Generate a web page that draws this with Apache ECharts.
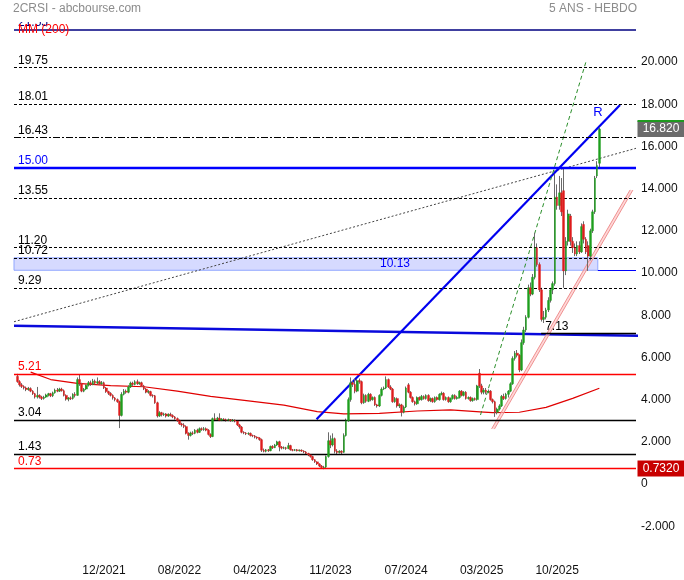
<!DOCTYPE html>
<html><head><meta charset="utf-8">
<script src="https://cdn.jsdelivr.net/npm/echarts@6/dist/echarts.min.js"></script>
<style>html,body{margin:0;padding:0;background:#fff}#c{width:684px;height:580px}</style>
</head><body><div id="c"></div>
<script>
// ---------- DATA ----------
const FIRST_WEEK = 1;            // index of the first weekly candle
const candles = [                // [open, close, low, high]
[5.10,4.85,4.80,5.22],[4.85,4.70,4.62,4.92],[4.70,4.62,4.55,4.78],[4.62,4.55,4.48,4.68],[4.55,4.48,4.40,4.62],
[4.48,4.52,4.42,4.60],[4.52,4.40,4.35,4.58],[4.40,4.28,4.22,4.45],[4.28,4.12,4.05,4.32],[4.12,4.20,4.05,4.60],
[4.20,4.12,4.05,4.25],[4.12,4.05,3.98,4.18],[4.05,4.12,4.00,4.18],[4.12,4.22,4.08,4.28],[4.22,4.28,4.15,4.32],
[4.28,4.18,4.12,4.32],[4.18,4.32,4.12,4.38],[4.32,4.45,4.28,4.52],[4.45,4.40,4.35,4.55],[4.40,4.50,4.36,4.56],
[4.50,4.42,4.38,4.56],[4.42,4.20,4.15,4.48],[4.20,4.02,3.95,4.25],[4.02,4.08,3.92,4.12],[4.08,4.05,3.98,4.15],
[4.05,4.25,4.00,4.30],[4.25,4.20,4.10,4.35],[4.20,4.95,4.18,5.05],[4.95,4.75,4.65,5.20],[4.75,4.40,4.35,4.80],
[4.40,4.50,4.35,4.55],[4.50,4.68,4.45,4.72],[4.68,4.80,4.62,4.88],[4.80,4.72,4.65,4.90],[4.72,4.88,4.68,4.98],
[4.88,4.78,4.72,4.95],[4.78,4.85,4.72,5.05],[4.85,4.75,4.70,4.92],[4.75,4.80,4.70,4.88],[4.80,4.55,4.50,4.85],
[4.55,4.38,4.32,4.60],[4.38,4.30,4.22,4.42],[4.30,4.20,4.15,4.35],[4.20,4.08,4.00,4.25],[4.08,4.00,3.92,4.12],
[4.00,3.90,3.85,4.05],[3.90,3.25,2.65,3.95],[3.25,4.25,3.20,4.35],[4.25,4.40,4.20,4.50],[4.40,4.35,4.28,4.48],
[4.35,4.60,4.30,4.68],[4.60,4.78,4.55,4.85],[4.78,4.72,4.65,4.85],[4.72,4.85,4.68,4.92],[4.85,4.75,4.70,4.95],
[4.75,4.80,4.70,4.85],[4.80,4.65,4.60,4.85],[4.65,4.50,4.45,4.70],[4.50,4.35,4.30,4.55],[4.35,4.38,4.28,4.45],
[4.38,4.20,4.15,4.42],[4.20,4.18,4.10,4.25],[4.18,3.85,3.80,4.22],[3.85,3.22,3.15,3.90],[3.22,3.38,3.18,3.45],
[3.38,3.28,3.20,3.42],[3.28,3.32,3.22,3.38],[3.32,3.22,3.15,3.36],[3.22,3.30,3.18,3.35],[3.30,3.25,3.20,3.38],
[3.25,3.18,3.12,3.30],[3.18,3.10,3.05,3.22],[3.10,3.00,2.95,3.15],[3.00,2.85,2.80,3.05],[2.85,2.80,2.72,2.90],
[2.80,2.72,2.65,2.88],[2.72,2.40,2.35,2.78],[2.40,2.30,2.10,2.45],[2.30,2.42,2.25,2.48],[2.42,2.40,2.32,2.50],
[2.40,2.55,2.36,2.60],[2.55,2.45,2.40,2.62],[2.45,2.62,2.42,2.68],[2.62,2.58,2.52,2.68],[2.58,2.62,2.52,2.70],
[2.62,2.55,2.50,2.68],[2.55,2.35,2.30,2.60],[2.35,2.25,2.18,2.40],[2.25,3.10,2.22,3.15],[3.10,3.05,2.98,3.35],
[3.05,3.12,3.00,3.18],[3.12,3.02,2.98,3.35],[3.02,3.08,2.98,3.12],[3.08,3.05,3.00,3.12],[3.05,3.02,2.96,3.10],
[3.02,3.05,2.98,3.10],[3.05,3.00,2.95,3.08],[3.00,3.03,2.96,3.08],[3.03,2.98,2.92,3.06],[2.98,2.80,2.75,3.02],
[2.80,2.70,2.62,2.85],[2.70,2.45,2.40,2.75],[2.45,2.42,2.36,2.50],[2.42,2.38,2.32,2.46],[2.38,2.40,2.32,2.45],
[2.40,2.30,2.25,2.44],[2.30,2.28,2.22,2.34],[2.28,2.22,2.16,2.32],[2.22,2.18,2.12,2.26],[2.18,2.10,2.05,2.22],
[2.10,1.60,1.52,2.15],[1.60,1.55,1.50,1.68],[1.55,1.62,1.50,1.66],[1.62,1.58,1.52,1.66],[1.58,1.78,1.55,1.82],
[1.78,1.72,1.66,1.84],[1.72,1.85,1.70,1.90],[1.85,2.00,1.80,2.05],[2.00,1.75,1.55,2.05],[1.75,1.70,1.64,1.80],
[1.70,1.72,1.65,1.78],[1.72,1.68,1.62,1.76],[1.68,1.82,1.65,1.95],[1.82,1.62,1.58,1.86],[1.62,1.60,1.55,1.66],
[1.60,1.62,1.56,1.66],[1.62,1.58,1.54,1.66],[1.58,1.60,1.54,1.64],[1.60,1.56,1.52,1.64],[1.56,1.52,1.46,1.60],
[1.52,1.45,1.40,1.56],[1.45,1.38,1.32,1.48],[1.38,1.30,1.25,1.42],[1.30,1.15,1.10,1.34],[1.15,1.05,1.00,1.18],
[1.05,0.95,0.90,1.08],[0.95,0.85,0.80,0.98],[0.85,0.78,0.72,0.90],[0.78,0.80,0.70,0.86],[0.80,1.30,0.76,1.35],
[1.30,2.05,1.25,2.45],[2.05,1.85,1.70,2.30],[1.85,2.15,1.78,2.40],[2.15,1.55,1.45,2.20],[1.55,1.50,1.40,1.65],
[1.50,1.55,1.45,1.60],[1.55,1.50,1.42,1.60],[1.50,2.30,1.48,2.40],[2.30,3.00,2.25,3.10],[3.00,4.00,2.95,4.10],
[4.00,4.80,3.90,5.05],[4.80,4.72,4.60,4.88],[4.72,4.40,4.30,5.00],[4.40,4.90,4.35,4.98],[4.90,4.85,4.75,5.00],
[4.85,3.85,3.78,4.90],[3.85,4.20,3.80,4.28],[4.20,3.92,3.85,4.25],[3.92,4.25,3.88,4.32],[4.25,4.00,3.92,4.30],
[4.00,4.10,3.95,4.15],[4.10,3.75,3.70,4.15],[3.75,3.70,3.62,3.80],[3.70,4.20,3.65,4.25],[4.20,4.50,4.15,4.58],
[4.50,4.55,4.45,4.62],[4.55,4.95,4.50,5.10],[4.95,4.60,4.55,5.00],[4.60,4.50,4.45,4.68],[4.50,3.90,3.85,4.55],
[3.90,4.05,3.85,4.12],[4.05,3.70,3.62,4.10],[3.70,3.75,3.60,3.82],[3.75,3.40,3.20,3.80],[3.40,3.65,3.35,3.72],
[3.65,4.55,3.60,4.62],[4.70,4.35,4.30,4.78],[4.35,4.10,4.05,4.40],[4.10,3.90,3.85,4.15],[3.90,3.80,3.72,3.95],
[3.80,4.10,3.75,4.15],[4.10,4.00,3.95,4.15],[4.00,4.15,3.95,4.22],[4.15,4.05,4.00,4.20],[4.05,4.20,4.00,4.25],
[4.20,3.95,3.90,4.25],[3.95,4.05,3.88,4.10],[4.05,3.90,3.85,4.10],[3.90,4.10,3.85,4.15],[4.10,4.00,3.95,4.15],
[4.00,4.25,3.95,4.30],[4.25,4.30,4.20,4.38],[4.30,4.00,3.95,4.35],[4.00,4.10,3.95,4.15],[4.10,3.90,3.85,4.15],
[3.90,4.05,3.85,4.10],[4.05,4.20,4.00,4.25],[4.20,4.05,4.00,4.25],[4.05,4.10,4.00,4.18],[4.10,4.40,4.05,4.45],
[4.40,4.20,4.15,4.45],[4.20,4.35,4.15,4.40],[4.35,4.05,4.00,4.40],[4.05,4.10,4.00,4.15],[4.10,3.95,3.90,4.15],
[3.95,4.05,3.90,4.10],[4.05,4.00,3.95,4.10],[4.00,4.65,3.95,4.70],[5.25,4.65,4.55,5.45],[4.65,4.35,4.25,4.75],
[4.35,4.45,4.25,4.55],[4.45,4.35,4.25,4.55],[4.35,4.40,4.30,4.48],[4.40,4.00,3.95,4.45],[4.00,3.90,3.82,4.05],
[3.90,3.40,3.18,3.95],[3.40,3.55,3.30,3.62],[3.55,3.70,3.48,3.78],[3.70,4.15,3.65,4.22],[4.15,4.05,3.98,4.28],
[4.05,4.25,4.00,4.32],[4.25,4.40,4.10,4.45],[4.40,4.75,4.35,4.82],[4.75,5.95,4.70,6.05],[5.95,6.20,5.85,6.30],
[6.20,6.10,6.00,6.35],[6.10,5.40,5.30,6.15],[5.40,6.70,5.35,6.85],[6.70,7.30,6.60,7.45],[7.30,7.90,7.20,8.00],
[7.90,9.30,7.85,9.45],[9.30,9.00,8.90,9.55],[9.00,9.80,8.95,9.95],[9.80,11.20,9.70,11.90],[11.20,10.40,10.30,11.40],
[10.40,9.20,9.10,10.50],[9.20,7.80,7.70,9.30],[7.80,7.90,7.63,8.20],[7.90,8.25,7.80,8.35],[8.25,8.70,8.15,8.85],
[8.70,9.20,8.60,9.30],[9.20,9.50,9.00,9.60],[9.50,13.60,9.40,14.70],[13.60,13.20,13.00,14.20],[13.20,13.80,13.00,14.60],
[13.80,12.90,12.70,14.50],[13.90,10.10,9.30,15.00],[10.10,11.50,9.90,11.70],[11.50,12.80,11.30,13.00],[12.70,11.50,11.30,12.80],
[11.50,11.20,10.95,11.70],[11.20,10.90,10.80,11.40],[10.90,11.30,10.80,11.50],[11.30,11.00,10.90,11.50],[11.00,12.20,10.95,12.35],
[12.30,11.60,11.40,12.45],[11.60,11.00,10.90,11.70],[11.30,10.80,10.10,11.50],[10.80,12.00,10.60,12.10],[12.00,12.90,11.90,13.00],
[12.90,14.50,12.80,14.60],[14.60,15.10,14.50,15.30],[15.20,16.82,15.00,16.90]
];
const SLOTS = 280;                               // weekly slots on the time axis
const tickIdx = [40, 74, 108, 142, 176, 210, 244];
const tickLabels = ['12/2021', '08/2022', '04/2023', '11/2023', '07/2024', '03/2025', '10/2025'];
const ma200 = [[7,5.30],[16,4.95],[28,4.77],[43,4.66],[58,4.61],[73,4.40],[88,4.15],[106,3.93],[121,3.74],
  [136,3.43],[148,3.32],[164,3.35],[181,3.46],[196,3.51],[211,3.41],[215,3.38],[227,3.40],[239,3.63],[251,4.06],[263,4.54]];
const levelValues = [21.55, 19.75, 18.01, 16.43, 15.00, 13.55, 11.20, 10.72, 9.29, 5.21, 3.04, 1.43, 0.73];
const levelLabels = ['21.55', '19.75', '18.01', '16.43', '15.00', '13.55', '11.20', '10.72', '9.29', '5.21', '3.04', '1.43', '0.73'];
const levelKinds = ['navy', 'dot', 'dot', 'dashdot', 'blue', 'dot', 'dot', 'dot', 'dot', 'red', 'black', 'black', 'red'];
const zoneRange = [10.13, 10.72];
const zoneEndWeek = 262.3;
const zoneLabel = '10.13';
const supportValue = 7.13, supportStartWeek = 236.8, supportLabel = '7.13';
const dottedTrend = [[-0.5, 7.69], [279.5, 15.91]];
const resistanceR = [[135.7, 3.07], [272.3, 17.96]];
const flatTrend = [[-0.5, 7.50], [301.1, 6.99]];
const greenTrend = [[209.5, 3.27], [257.2, 20.09]];
const pinkTrendA = [[214.5, 2.61], [276.8, 13.93]];
const pinkTrendB = [[215.8, 2.61], [278.1, 13.93]];
const pinkTrendMid = [[215.15, 2.61], [277.45, 13.93]];
const lastPrice = 16.82, lastPriceText = '16.820';
const lowPrice = 0.732, lowPriceText = '0.7320';
const fiboNote = '38,2% 21,0063 100% 18';
const fiboNoteAt = [-1.9, 12.9];
const rLabelAt = [262.4, 17.63];
const zoneLabelAt = [171, 10.43];

// ---------- CHART ----------
const FONT = '"Liberation Sans", Arial, Helvetica, sans-serif';
const chart = echarts.init(document.getElementById('c'));
const wickData = candles.map((c, k) => [FIRST_WEEK + k, c[0], c[1], c[2], c[3]]);
const bodyData = candles.map((c, k) => [FIRST_WEEK + k, c[0], c[1], Math.min(c[0], c[1]), Math.max(c[0], c[1])]);

const kindStyle = {
  navy: {color: '#000080', width: 1.5, type: 'solid', text: '#000080'},
  dot: {color: '#000', width: 1, type: [3, 2], text: '#000'},
  dashdot: {color: '#000', width: 1, type: [7, 2, 2, 2], text: '#000'},
  blue: {color: '#0000ff', width: 2.4, type: 'solid', text: '#0000ff'},
  red: {color: '#ff0000', width: 1.3, type: 'solid', text: '#ff0000'},
  black: {color: '#000', width: 1.3, type: 'solid', text: '#000'}
};
const lbl = (text, color) => ({show: true, formatter: text, position: 'insideStartTop', distance: [4, 1],
  color: color, fontSize: 12, fontFamily: FONT});

const levelLines = levelValues.map((v, k) => {
  const s = kindStyle[levelKinds[k]];
  return {yAxis: v, lineStyle: {color: s.color, width: s.width, type: s.type}, label: lbl(levelLabels[k], s.text)};
});
levelLines.push([{coord: [supportStartWeek, supportValue], lineStyle: {color: '#000', width: 1.3, type: 'solid'},
  label: lbl(supportLabel, '#000')}, {coord: [SLOTS - 0.5, supportValue]}]);
levelLines.push([{coord: [zoneEndWeek, zoneRange[0]], lineStyle: {color: '#0000ff', width: 1.2, type: 'solid'},
  label: {show: false}}, {coord: [SLOTS - 0.5, zoneRange[0]]}]);

const trend = (data, color, width, type, extra) => Object.assign({
  type: 'line', data: data, symbol: 'none', silent: true, animation: false,
  lineStyle: {color: color, width: width, type: type}, z: 3
}, extra || {});

const notePoint = (at, text, color, pos, size) => ({coord: at, symbol: 'circle', symbolSize: 0,
  label: {show: true, formatter: text, position: pos, distance: 0, color: color, fontSize: size || 12, fontFamily: FONT}});
const tagPoint = (v, text, bg) => ({coord: [SLOTS - 0.5, v], symbol: 'rect', symbolSize: [47, 16], symbolOffset: [25, 0],
  itemStyle: {color: bg}, label: {show: true, formatter: text, position: 'inside', color: '#fff', fontSize: 12, fontFamily: FONT}});

chart.setOption({
  animation: false,
  backgroundColor: '#fff',
  grid: {left: 14, right: 48, top: 19.8, bottom: 11.6, containLabel: false},
  xAxis: {
    type: 'value', min: -0.5, max: SLOTS - 0.5,
    axisLine: {show: false}, axisTick: {show: false}, splitLine: {show: false},
    axisLabel: {customValues: tickIdx, margin: -4, color: '#111', fontSize: 12, fontFamily: FONT,
      formatter: v => { const k = tickIdx.indexOf(Math.round(v)); return k >= 0 ? tickLabels[k] : ''; }}
  },
  yAxis: {
    type: 'value', position: 'right', min: -4, max: 22, interval: 2,
    axisLine: {show: false}, axisTick: {show: false}, splitLine: {show: false},
    axisLabel: {showMinLabel: false, showMaxLabel: false, margin: 5, color: '#111', fontSize: 12, fontFamily: FONT,
      formatter: v => v === 0 ? '0' : v.toFixed(3)}
  },
  graphic: [
    {type: 'rect', shape: {x: 0, y: 0, width: 120, height: 22}, style: {fill: '#fff'}, z: 100},
    {type: 'rect', shape: {x: 0, y: 200, width: 13.5, height: 25}, style: {fill: '#fff'}, z: 100},
    {type: 'text', left: 13, top: 3, style: {text: '2CRSI - abcbourse.com', fill: '#8c8c8c', font: '12px ' + FONT}, z: 101},
    {type: 'text', right: 47, top: 3, style: {text: '5 ANS - HEBDO', fill: '#8c8c8c', font: '12px ' + FONT}, z: 101},
    {type: 'text', left: 18, top: 24, style: {text: 'MM (200)', fill: '#ff0000', font: '12px ' + FONT}, z: 101}
  ],
  series: [
    {
      type: 'line', name: 'MM (200)', data: ma200, symbol: 'none', silent: true, z: 2,
      lineStyle: {color: '#e00000', width: 1.2},
      markLine: {silent: true, symbol: ['none', 'none'], animation: false, data: levelLines},
      markArea: {silent: true, animation: false, data: [[
        {xAxis: -0.5, yAxis: zoneRange[0], itemStyle: {color: 'rgba(180,188,255,0.55)', borderColor: '#90a6ff', borderWidth: 1}},
        {xAxis: zoneEndWeek, yAxis: zoneRange[1]}]]},
      markPoint: {silent: true, animation: false, data: [
        notePoint(fiboNoteAt, fiboNote, '#000', 'right'),
        notePoint(rLabelAt, 'R', '#0000ff', 'inside', 13),
        notePoint(zoneLabelAt, zoneLabel, '#0000ff', 'inside'),
        tagPoint(lastPrice, lastPriceText, '#6b6b6b'),
        tagPoint(lowPrice, lowPriceText, '#c80000')
      ]}
    },
    trend(dottedTrend, '#444', 1, [2, 2]),
    trend(flatTrend, '#0a0adc', 2.6, 'solid', {clip: false}),
    trend(resistanceR, '#0000f0', 2.2, 'solid'),
    trend(greenTrend, '#2a8f2a', 1, [4, 3]),
    trend(pinkTrendMid, 'rgba(255,190,190,0.6)', 2.5, 'solid'),
    trend(pinkTrendA, '#ef9090', 1, 'solid'),
    trend(pinkTrendB, '#ef9090', 1, 'solid'),
    {
      type: 'candlestick', data: wickData, encode: {x: 0, y: [1, 2, 3, 4]}, barWidth: 1, silent: true, z: 4,
      itemStyle: {color: '#6a6a6a', color0: '#6a6a6a', borderColor: '#6a6a6a', borderColor0: '#6a6a6a', borderWidth: 1}
    },
    {
      type: 'candlestick', data: bodyData, encode: {x: 0, y: [1, 2, 3, 4]}, barWidth: 2.2, silent: true, z: 5,
      itemStyle: {color: '#1e9e1e', color0: '#dd1c1c', borderColor: '#1e9e1e', borderColor0: '#dd1c1c', borderWidth: 0.4}
    },
    {
      type: 'line', data: [[SLOTS - 0.5, lastPrice]], symbol: 'none', silent: true, z: 6,
      markPoint: {silent: true, animation: false, data: [{coord: [SLOTS - 0.5, lastPrice], symbol: 'rect',
        symbolSize: [47, 2], symbolOffset: [25, -8], itemStyle: {color: '#1f9a1f'}, label: {show: false}}]}
    }
  ]
});
</script>
</body></html>
